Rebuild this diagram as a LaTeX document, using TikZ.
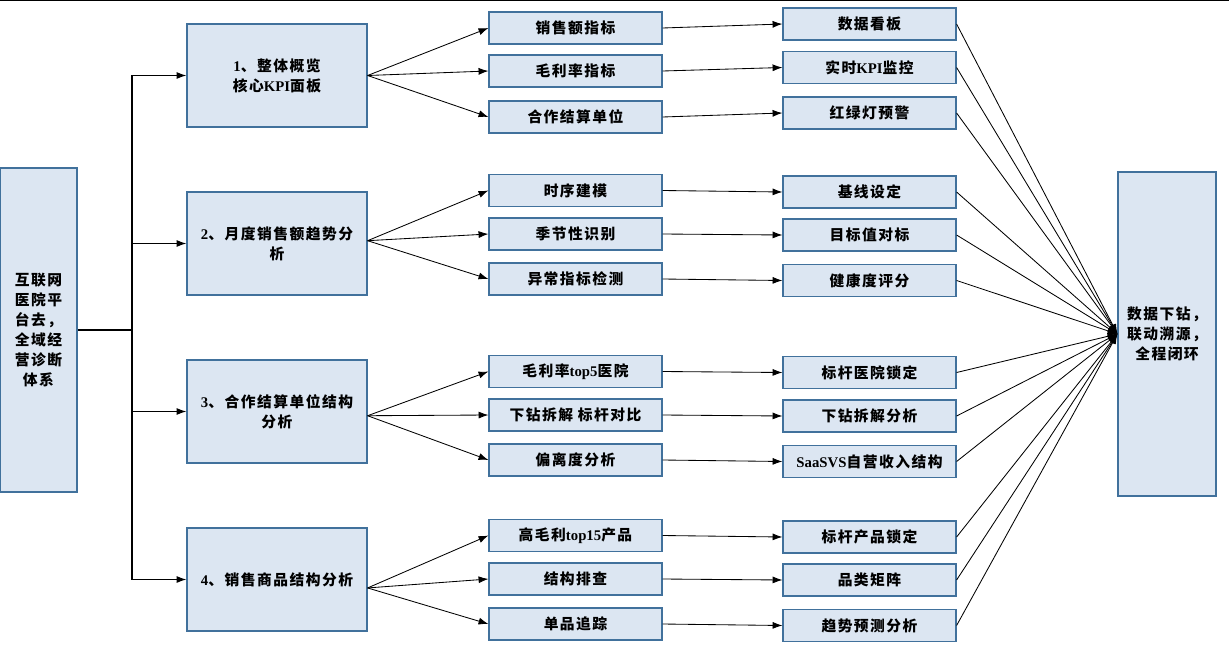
\documentclass[tikz,border=0pt]{standalone}
\usepackage{fontspec}
\setmainfont{Noto Sans CJK SC}[LetterSpace=10]
\newfontfamily\lat{Liberation Serif}
\usepackage{tikz}
\usetikzlibrary{arrows.meta,positioning}
\definecolor{boxfill}{HTML}{DCE6F2}
\definecolor{boxline}{HTML}{41719C}
\tikzstyle{box} = [draw=boxline,fill=boxfill,line width=0.8pt,align=center,inner sep=0pt,font=\fontsize{10.5pt}{14.2pt}\selectfont\bfseries]
\tikzstyle{sourcebox} = [box,minimum width=1.925cm,minimum height=8.1cm]
\tikzstyle{topicbox} = [box,minimum width=4.5cm,minimum height=2.575cm]
\tikzstyle{itembox} = [box,minimum width=4.325cm,minimum height=0.8cm]
\tikzstyle{hubbox} = [box,minimum width=2.45cm,minimum height=8.1cm]
\tikzset{>={Latex[length=7pt,width=5pt]}}

\begin{document}
\begin{tikzpicture}[x=0.025cm,y=-0.025cm,line width=0.6pt]
    \useasboundingbox (0,0) rectangle (1229,664);
    \draw [line width=1.4pt] (0,0.5) -- (1229,0.5);

    \node [sourcebox] (src) at (38.5,330) {互联网\\医院平\\台去，\\全域经\\营诊断\\体系};
    \node [hubbox] (hub) at (1167,334) {数据下钻，\\联动溯源，\\全程闭环};

    \node [topicbox] (t1) at (277,75.5) {{\lat 1}、整体概览\\核心{\lat KPI}面板};
    \node [topicbox] (t2) at (277,243.5) {{\lat 2}、月度销售额趋势分\\析};
    \node [topicbox] (t3) at (277,411.5) {{\lat 3}、合作结算单位结构\\分析};
    \node [topicbox] (t4) at (277,579.5) {{\lat 4}、销售商品结构分析};

    \node [itembox] (a1) at (575.5,28) {销售额指标};
    \node [itembox] (a2) at (575.5,71) {毛利率指标};
    \node [itembox] (a3) at (575.5,117) {合作结算单位};
    \node [itembox] (a4) at (575.5,190.5) {时序建模};
    \node [itembox] (a5) at (575.5,234) {季节性识别};
    \node [itembox] (a6) at (575.5,279) {异常指标检测};
    \node [itembox] (a7) at (575.5,371.5) {毛利率{\lat top5}医院};
    \node [itembox] (a8) at (575.5,415) {下钻拆解 标杆对比};
    \node [itembox] (a9) at (575.5,460) {偏离度分析};
    \node [itembox] (a10) at (575.5,535.5) {高毛利{\lat top15}产品};
    \node [itembox] (a11) at (575.5,579) {结构排查};
    \node [itembox] (a12) at (575.5,624) {单品追踪};

    \node [itembox] (b1) at (869.5,24) {数据看板};
    \node [itembox] (b2) at (869.5,67.5) {实时{\lat KPI}监控};
    \node [itembox] (b3) at (869.5,113) {红绿灯预警};
    \node [itembox] (b4) at (869.5,192) {基线设定};
    \node [itembox] (b5) at (869.5,235) {目标值对标};
    \node [itembox] (b6) at (869.5,280.5) {健康度评分};
    \node [itembox] (b7) at (869.5,372.5) {标杆医院锁定};
    \node [itembox] (b8) at (869.5,416) {下钻拆解分析};
    \node [itembox] (b9) at (869.5,461.5) {{\lat SaaSVS}自营收入结构};
    \node [itembox] (b10) at (869.5,537) {标杆产品锁定};
    \node [itembox] (b11) at (869.5,580) {品类矩阵};
    \node [itembox] (b12) at (869.5,625.5) {趋势预测分析};

    \coordinate (trunk) at (132,330);
    \draw [line width=0.8pt] (src.east) -- (trunk);
    \draw [->,line width=0.8pt] (trunk) |- (t1.west);
    \draw [->,line width=0.8pt] (trunk) |- (t2.west);
    \draw [->,line width=0.8pt] (trunk) |- (t3.west);
    \draw [->,line width=0.8pt] (trunk) |- (t4.west);

    \draw [->] (t1.east) -- (a1.west);
    \draw [->] (t1.east) -- (a2.west);
    \draw [->] (t1.east) -- (a3.west);
    \draw [->] ([yshift=2pt]t2.east) -- (a4.west);
    \draw [->] ([yshift=2pt]t2.east) -- (a5.west);
    \draw [->] ([yshift=2pt]t2.east) -- (a6.west);
    \draw [->] ([yshift=-3pt]t3.east) -- (a7.west);
    \draw [->] ([yshift=-3pt]t3.east) -- (a8.west);
    \draw [->] ([yshift=-3pt]t3.east) -- (a9.west);
    \draw [->] ([yshift=-6pt]t4.east) -- (a10.west);
    \draw [->] ([yshift=-6pt]t4.east) -- (a11.west);
    \draw [->] ([yshift=-6pt]t4.east) -- (a12.west);

    \draw [->] (a1.east) -- (b1.west);
    \draw [->] (a2.east) -- (b2.west);
    \draw [->] (a3.east) -- (b3.west);
    \draw [->] (a4.east) -- (b4.west);
    \draw [->] (a5.east) -- (b5.west);
    \draw [->] (a6.east) -- (b6.west);
    \draw [->] (a7.east) -- (b7.west);
    \draw [->] (a8.east) -- (b8.west);
    \draw [->] (a9.east) -- (b9.west);
    \draw [->] (a10.east) -- (b10.west);
    \draw [->] (a11.east) -- (b11.west);
    \draw [->] (a12.east) -- (b12.west);

    \draw [->] (b1.east) -- (hub.west);
    \draw [->] (b2.east) -- (hub.west);
    \draw [->] (b3.east) -- (hub.west);
    \draw [->] (b4.east) -- (hub.west);
    \draw [->] (b5.east) -- (hub.west);
    \draw [->] (b6.east) -- (hub.west);
    \draw [->] (b7.east) -- (hub.west);
    \draw [->] (b8.east) -- (hub.west);
    \draw [->] (b9.east) -- (hub.west);
    \draw [->] (b10.east) -- (hub.west);
    \draw [->] (b11.east) -- (hub.west);
    \draw [->] (b12.east) -- (hub.west);
\end{tikzpicture}
\end{document}
